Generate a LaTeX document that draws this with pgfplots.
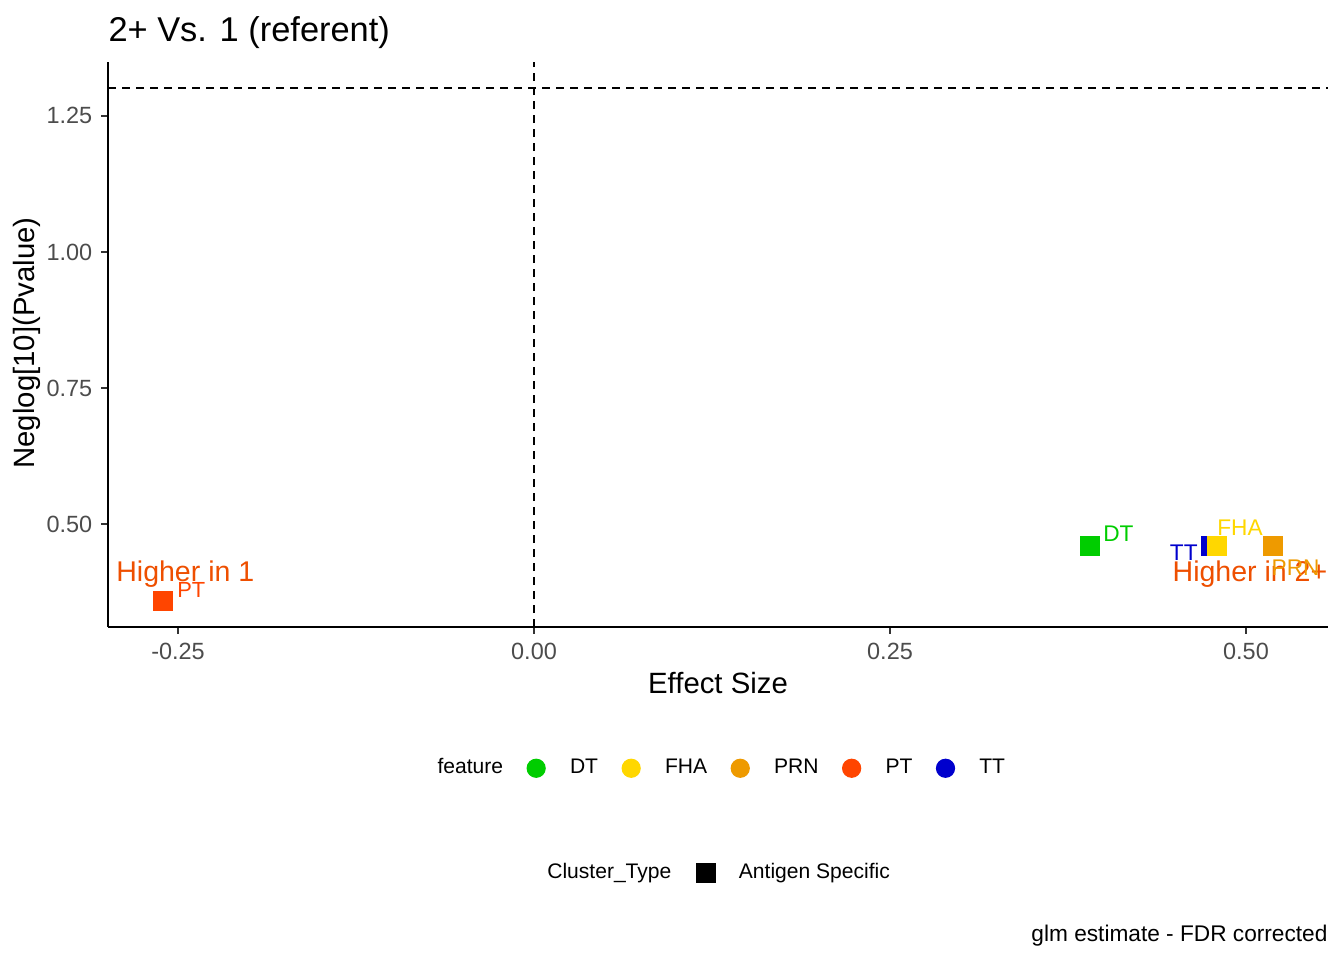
\documentclass[border=0pt]{standalone}
\usepackage{fontspec}
\setmainfont{Liberation Sans}
\usepackage{pgfplots}
\pgfplotsset{compat=1.18}
\definecolor{cDT}{HTML}{00CD00}
\definecolor{cFHA}{HTML}{FFD700}
\definecolor{cPRN}{HTML}{EE9A00}
\definecolor{cPT}{HTML}{FF4500}
\definecolor{cTT}{HTML}{0000CD}
\definecolor{cHi}{HTML}{EE4F00}
\begin{document}
\begin{tikzpicture}
\path[use as bounding box] (-40.5pt,-124.875pt) rectangle (463.5pt,235.125pt);
\begin{axis}[
  at={(0pt,0pt)}, anchor=south west,
  scale only axis, width=457.5pt, height=211.875pt,
  xmin=-0.2992, xmax=0.5576, ymin=0.311, ymax=1.349,
  axis lines=left, axis line style={-, line width=0.75pt, black},
  xtick={-0.25,0,0.25,0.5}, ytick={0.5,0.75,1,1.25},
  tick align=outside, major tick length=2.6pt,
  every tick/.style={line width=0.75pt, color=black!80},
  ticklabel style={font=\fontsize{8.8}{10}\selectfont, color=black!70},
  xticklabel style={inner sep=3.3pt},
  yticklabel style={inner sep=3.1pt},
  /pgf/number format/fixed, /pgf/number format/fixed zerofill,
  /pgf/number format/precision=2, /pgf/number format/assume math mode=true,
  clip=false,
  legend style={at={(0.2502,-0.2500)}, anchor=west, draw=none, fill=none,
    inner sep=0pt, outer sep=0pt, font=\fontsize{7.9}{9}\selectfont,
    /tikz/every odd column/.append style={column sep=9.1pt},
    /tikz/every even column/.append style={column sep=8.8pt},
    nodes={inner sep=0pt}},
  legend columns=-1,
]
\addplot[forget plot, black, line width=0.6pt, dash pattern=on 3pt off 2.25pt] coordinates {(-0.2992,1.30103) (0.5576,1.30103)};
\addplot[forget plot, black, line width=0.6pt, dash pattern=on 3pt off 2.25pt] coordinates {(0,0.311) (0,1.349)};
\addplot[forget plot, only marks, mark=square*, mark size=3.5pt, color=cPT] coordinates {(-0.2605,0.3585)};
\addplot[forget plot, only marks, mark=square*, mark size=3.5pt, color=cDT] coordinates {(0.3904,0.4605)};
\addplot[forget plot, only marks, mark=square*, mark size=3.5pt, color=cTT] coordinates {(0.4755,0.4605)};
\addplot[forget plot, only marks, mark=square*, mark size=3.5pt, color=cFHA] coordinates {(0.4796,0.4605)};
\addplot[forget plot, only marks, mark=square*, mark size=3.5pt, color=cPRN] coordinates {(0.5188,0.4605)};
\node[anchor=base, text=cHi, font=\fontsize{10.7}{12}\selectfont] at (axis cs:-0.2449,0.3952) {Higher in 1};
\node[anchor=base, text=cHi, font=\fontsize{10.7}{12}\selectfont] at (axis cs:0.5028,0.3952) {Higher in 2+};
\node[anchor=base west, inner sep=0pt, text=cDT, font=\fontsize{8.5}{10}\selectfont] at (axis cs:0.3994,0.4675) {DT};
\node[anchor=base west, inner sep=0pt, text=cFHA, font=\fontsize{8.5}{10}\selectfont] at (axis cs:0.4795,0.4798) {FHA};
\node[anchor=base west, inner sep=0pt, text=cTT, font=\fontsize{8.5}{10}\selectfont] at (axis cs:0.4462,0.4338) {TT};
\node[anchor=base west, inner sep=0pt, text=cPRN, font=\fontsize{8.5}{10}\selectfont] at (axis cs:0.5177,0.4063) {PRN};
\node[anchor=base west, inner sep=0pt, text=cPT, font=\fontsize{8.2}{10}\selectfont] at (axis cs:-0.2509,0.3653) {PT};
\addlegendimage{empty legend}\addlegendentry{feature}
\addlegendimage{legend image code/.code={\fill[cDT] (0pt,0pt) circle (3.4pt);}}\addlegendentry{DT}
\addlegendimage{legend image code/.code={\fill[cFHA] (0pt,0pt) circle (3.4pt);}}\addlegendentry{FHA}
\addlegendimage{legend image code/.code={\fill[cPRN] (0pt,0pt) circle (3.4pt);}}\addlegendentry{PRN}
\addlegendimage{legend image code/.code={\fill[cPT] (0pt,0pt) circle (3.4pt);}}\addlegendentry{PT}
\addlegendimage{legend image code/.code={\fill[cTT] (0pt,0pt) circle (3.4pt);}}\addlegendentry{TT}
\end{axis}
\begin{axis}[
  at={(0pt,0pt)}, anchor=south west,
  scale only axis, width=457.5pt, height=211.875pt,
  xmin=0, xmax=1, ymin=0, ymax=1, hide axis,
  legend style={at={(0.3413,-0.4346)}, anchor=west, draw=none, fill=none,
    inner sep=0pt, outer sep=0pt, font=\fontsize{7.9}{9}\selectfont,
    /tikz/every odd column/.append style={column sep=8.6pt},
    /tikz/every even column/.append style={column sep=9.2pt},
    nodes={inner sep=0pt}},
  legend columns=-1,
]
\addlegendimage{empty legend}\addlegendentry{Cluster\_Type}
\addlegendimage{legend image code/.code={\fill[black] (-3.55pt,-3.55pt) rectangle (3.55pt,3.55pt);}}\addlegendentry{Antigen Specific}
\end{axis}
\node[anchor=base west, inner sep=0pt, font=\fontsize{12.9}{15}\selectfont] at (0pt,219.75pt) {2+ Vs. 1 (referent)};
\node[anchor=base, inner sep=0pt, font=\fontsize{11}{13}\selectfont] at (228.75pt,-24.9pt) {Effect Size};
\node[anchor=base, rotate=90, inner sep=0pt, font=\fontsize{11}{13}\selectfont] at (-27.4pt,106.5pt) {Neglog[10](Pvalue)};
\node[anchor=base east, inner sep=0pt, font=\fontsize{8.5}{10}\selectfont] at (457.5pt,-118pt) {glm estimate - FDR corrected};
\end{tikzpicture}
\end{document}
